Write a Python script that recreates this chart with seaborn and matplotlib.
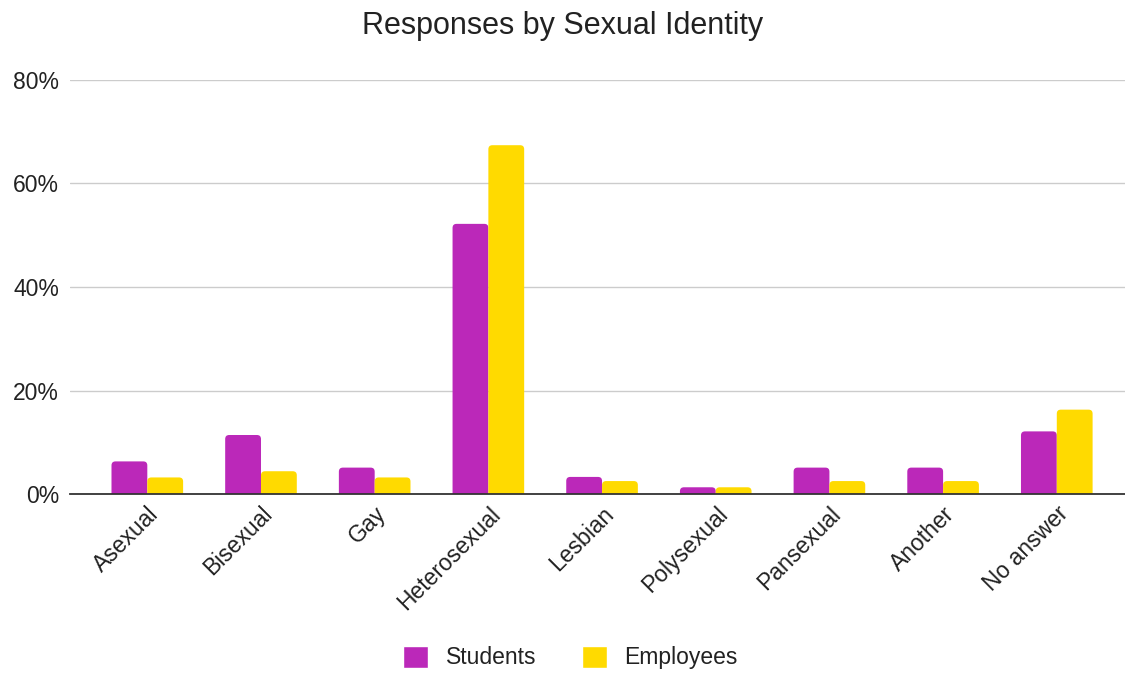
import pandas as pd
import matplotlib
matplotlib.use('Agg')
import matplotlib.pyplot as plt
import seaborn as sns
from matplotlib.ticker import PercentFormatter
from matplotlib.patches import Patch, FancyBboxPatch

# data (percent of respondents)
categories = ['Asexual', 'Bisexual', 'Gay', 'Heterosexual', 'Lesbian',
              'Polysexual', 'Pansexual', 'Another', 'No answer']
students = [6.3, 11.4, 5.1, 52.2, 3.3, 1.3, 5.1, 5.1, 12.1]
employees = [3.2, 4.4, 3.2, 67.4, 2.5, 1.3, 2.5, 2.5, 16.3]
groups = ['Students', 'Employees']
colors = {'Students': '#BB28B9', 'Employees': '#FFDA00'}

df = pd.DataFrame({'Identity': categories * 2,
                   'Value': students + employees,
                   'Group': ['Students'] * len(categories) + ['Employees'] * len(categories)})

sns.set_style('white')
plt.rcParams['font.family'] = ['Liberation Sans', 'DejaVu Sans']

fig = plt.figure(figsize=(11.25, 6.75), dpi=100)
ax = fig.add_axes([70 / 1125, 1 - 494 / 675, 1 - 70 / 1125, (494 - 80) / 675])

sns.barplot(data=df, x='Identity', y='Value', hue='Group', hue_order=groups,
            palette=colors, width=0.63, saturation=1, linewidth=0, ax=ax, legend=False)

ax.set_ylim(0, 80)
ax.set_xlim(-0.68, 8.6)

# swap bars for rounded-top versions (bottom pushed under the baseline)
fig.canvas.draw()
bb = ax.get_window_extent()
px_x = (ax.get_xlim()[1] - ax.get_xlim()[0]) / bb.width
px_y = (ax.get_ylim()[1] - ax.get_ylim()[0]) / bb.height
r = 4 * px_x
for p in list(ax.patches):
    x, y = p.get_x(), p.get_y()
    w, h = p.get_width(), p.get_height()
    if h <= 0:
        continue
    off = 5 * px_y
    fb = FancyBboxPatch((x, y - off), w, h + off,
                        boxstyle=f'round,pad=0,rounding_size={r}',
                        mutation_aspect=px_y / px_x,
                        facecolor=p.get_facecolor(), edgecolor='none', zorder=2)
    p.remove()
    ax.add_patch(fb)

ax.set_yticks([0, 20, 40, 60, 80])
ax.yaxis.set_major_formatter(PercentFormatter(decimals=0))
ax.grid(axis='y', color='#cccccc', linewidth=1)
ax.set_axisbelow(True)
for s in ['left', 'right', 'top']:
    ax.spines[s].set_visible(False)
ax.spines['bottom'].set_color('#333333')
ax.spines['bottom'].set_linewidth(1.3)
ax.spines['bottom'].set_zorder(5)
ax.tick_params(axis='y', length=0, labelsize=16.5, colors='#222222', pad=8)
ax.tick_params(axis='x', length=0, labelsize=16.5, colors='#222222', pad=6)
plt.setp(ax.get_xticklabels(), rotation=45, ha='right', rotation_mode='anchor')
ax.set_xlabel('')
ax.set_ylabel('')

fig.suptitle('Responses by Sexual Identity', fontsize=22, color='#222222', y=0.983)

handles = [Patch(facecolor=colors[g], label=g) for g in groups]
fig.legend(handles=handles, loc='center', bbox_to_anchor=(0.507, 0.026), ncol=2,
           frameon=False, fontsize=16.5, handlelength=1.1, handleheight=1.1,
           columnspacing=2.0, handletextpad=0.75, labelcolor='#222222')

fig.savefig('out.png', dpi=100)
